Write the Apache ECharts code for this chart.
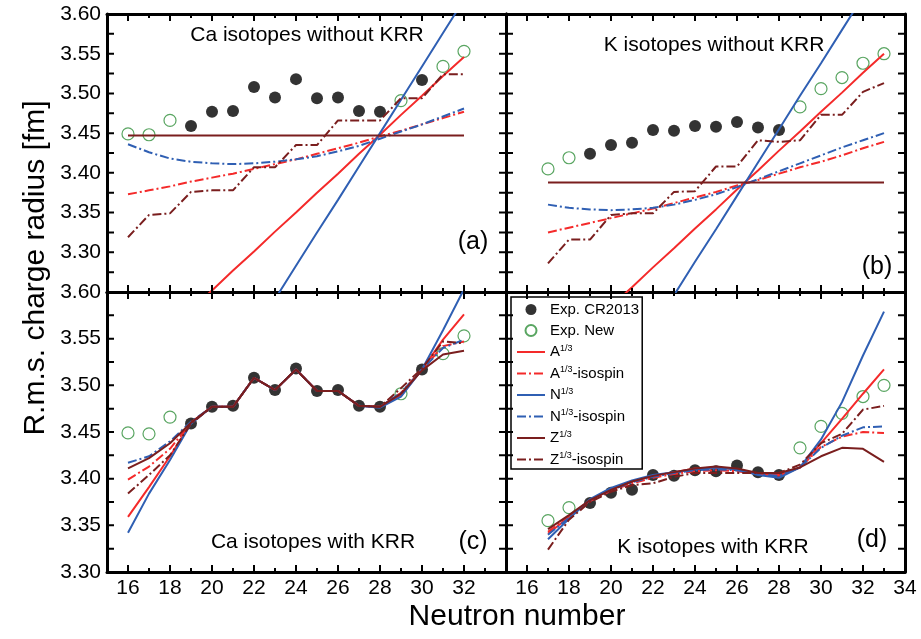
<!DOCTYPE html>
<html>
<head>
<meta charset="utf-8">
<script src="https://cdn.jsdelivr.net/npm/echarts@6/dist/echarts.min.js"></script>
<style>
  html, body { margin: 0; padding: 0; background: #fff; }
  #box { width: 921px; height: 639px; }
</style>
</head>
<body>
<div id="box"></div>
<script>
// neutron numbers
const caN = [16, 17, 18, 19, 20, 21, 22, 23, 24, 25, 26, 27, 28, 29, 30, 31, 32];
const kN = [17, 18, 19, 20, 21, 22, 23, 24, 25, 26, 27, 28, 29, 30, 31, 32, 33];

// experimental radii (fm)
const caCR = [null, null, null, 3.459, 3.477, 3.478, 3.508, 3.495, 3.518, 3.494, 3.495, 3.478, 3.477, null, 3.517, null, null];
const caNew = [3.449, 3.448, 3.466, null, null, null, null, null, null, null, null, null, null, 3.491, null, 3.534, 3.553];
const kCR = [null, null, 3.424, 3.435, 3.438, 3.454, 3.453, 3.459, 3.458, 3.464, 3.457, 3.454, null, null, null, null, null];
const kNew = [3.405, 3.419, null, null, null, null, null, null, null, null, null, null, 3.483, 3.506, 3.520, 3.538, 3.550];

// (a) Ca without KRR
const aA = [3.154, 3.179, 3.203, 3.228, 3.252, 3.277, 3.301, 3.326, 3.350, 3.375, 3.399, 3.424, 3.448, 3.473, 3.497, 3.522, 3.546];
const aAIso = [3.373, 3.378, 3.383, 3.389, 3.394, 3.399, 3.405, 3.411, 3.417, 3.424, 3.431, 3.438, 3.446, 3.453, 3.461, 3.469, 3.477];
const aN = [2.947, 2.989, 3.031, 3.073, 3.115, 3.157, 3.199, 3.241, 3.283, 3.325, 3.366, 3.408, 3.450, 3.492, 3.534, 3.576, 3.618];
const aNIso = [3.436, 3.426, 3.418, 3.414, 3.412, 3.411, 3.412, 3.414, 3.417, 3.421, 3.427, 3.434, 3.443, 3.452, 3.461, 3.471, 3.481];
const aZ = [3.447, 3.447, 3.447, 3.447, 3.447, 3.447, 3.447, 3.447, 3.447, 3.447, 3.447, 3.447, 3.447, 3.447, 3.447, 3.447, 3.447];
const aZIso = [3.319, 3.347, 3.349, 3.376, 3.378, 3.378, 3.407, 3.407, 3.435, 3.435, 3.466, 3.466, 3.466, 3.494, 3.494, 3.524, 3.524];

// (b) K without KRR
const bA = [3.158, 3.183, 3.207, 3.232, 3.256, 3.281, 3.305, 3.330, 3.354, 3.379, 3.403, 3.428, 3.452, 3.477, 3.501, 3.526, 3.550];
const bAIso = [3.325, 3.331, 3.337, 3.343, 3.349, 3.355, 3.362, 3.369, 3.376, 3.384, 3.391, 3.399, 3.407, 3.414, 3.422, 3.431, 3.439];
const bN = [2.995, 3.037, 3.079, 3.120, 3.162, 3.204, 3.246, 3.288, 3.329, 3.371, 3.413, 3.455, 3.497, 3.538, 3.580, 3.622, 3.664];
const bNIso = [3.360, 3.356, 3.354, 3.353, 3.354, 3.356, 3.360, 3.366, 3.373, 3.382, 3.392, 3.402, 3.412, 3.422, 3.432, 3.441, 3.450];
const bZ = [3.388, 3.388, 3.388, 3.388, 3.388, 3.388, 3.388, 3.388, 3.388, 3.388, 3.388, 3.388, 3.388, 3.388, 3.388, 3.388, 3.388];
const bZIso = [3.286, 3.316, 3.316, 3.347, 3.349, 3.349, 3.376, 3.377, 3.408, 3.408, 3.441, 3.439, 3.441, 3.473, 3.473, 3.502, 3.513];

// (c) Ca with KRR
const cA = [3.359, 3.391, 3.424, 3.460, 3.477, 3.477, 3.508, 3.495, 3.517, 3.494, 3.494, 3.478, 3.477, 3.489, 3.517, 3.549, 3.576];
const cAIso = [3.399, 3.413, 3.432, 3.460, 3.477, 3.477, 3.508, 3.495, 3.517, 3.494, 3.494, 3.478, 3.477, 3.492, 3.517, 3.542, 3.547];
const cN = [3.342, 3.384, 3.420, 3.459, 3.477, 3.477, 3.508, 3.495, 3.517, 3.494, 3.494, 3.478, 3.476, 3.488, 3.517, 3.559, 3.603];
const cNIso = [3.417, 3.424, 3.440, 3.461, 3.477, 3.477, 3.508, 3.495, 3.517, 3.494, 3.494, 3.478, 3.477, 3.492, 3.517, 3.540, 3.549];
const cZ = [3.411, 3.422, 3.438, 3.460, 3.477, 3.477, 3.508, 3.495, 3.517, 3.494, 3.494, 3.478, 3.477, 3.491, 3.516, 3.533, 3.537];
const cZIso = [3.384, 3.404, 3.425, 3.459, 3.477, 3.477, 3.508, 3.495, 3.517, 3.494, 3.494, 3.478, 3.477, 3.497, 3.518, 3.547, 3.545];

// (d) K with KRR
const dA = [3.391, 3.409, 3.427, 3.439, 3.447, 3.453, 3.457, 3.461, 3.462, 3.460, 3.455, 3.453, 3.462, 3.488, 3.514, 3.541, 3.567];
const dAIso = [3.393, 3.410, 3.426, 3.437, 3.445, 3.451, 3.455, 3.458, 3.459, 3.458, 3.455, 3.454, 3.462, 3.484, 3.495, 3.500, 3.499];
const dN = [3.385, 3.407, 3.428, 3.440, 3.448, 3.454, 3.457, 3.460, 3.462, 3.460, 3.454, 3.451, 3.462, 3.492, 3.532, 3.582, 3.629];
const dNIso = [3.390, 3.408, 3.427, 3.438, 3.446, 3.452, 3.456, 3.459, 3.460, 3.459, 3.455, 3.453, 3.462, 3.483, 3.496, 3.505, 3.506];
const dZ = [3.396, 3.411, 3.427, 3.438, 3.447, 3.453, 3.457, 3.461, 3.463, 3.461, 3.456, 3.456, 3.462, 3.474, 3.483, 3.482, 3.468];
const dZIso = [3.374, 3.406, 3.425, 3.436, 3.443, 3.445, 3.452, 3.456, 3.456, 3.456, 3.456, 3.456, 3.465, 3.488, 3.498, 3.524, 3.528];

// tick / label values
const evenTicks = [16, 18, 20, 22, 24, 26, 28, 30, 32, 34];
const oddTicks = [15, 17, 19, 21, 23, 25, 27, 29, 31, 33];
const yTicksTop = [3.25, 3.275, 3.30, 3.325, 3.35, 3.375, 3.40, 3.425, 3.45, 3.475, 3.50, 3.525, 3.55, 3.575, 3.60];
const yTicksC = [3.30, 3.325, 3.35, 3.375, 3.40, 3.425, 3.45, 3.475, 3.50, 3.525, 3.55, 3.575, 3.60];
const yTicksD = [3.35, 3.375, 3.40, 3.425, 3.45, 3.475, 3.50, 3.525, 3.55, 3.575, 3.60, 3.625, 3.65];
const xLabelsLeft = [16, 18, 20, 22, 24, 26, 28, 30, 32];
const xLabelsRight = [16, 18, 20, 22, 24, 26, 28, 30, 32, 34];
const yLabels = [3.30, 3.35, 3.40, 3.45, 3.50, 3.55, 3.60];

const FONT = "'Liberation Sans', Arial, sans-serif";
const RED = '#f42a2a';
const BLUE = '#2f5fb3';
const MAROON = '#7a1e1e';
const GREEN = '#2f8f3a';
const DASHDOT = [9, 3, 2, 3];

const lineDefs = [
  { name: 'A1/3', color: RED, type: 'solid' },
  { name: 'A1/3-isospin', color: RED, type: DASHDOT },
  { name: 'N1/3', color: BLUE, type: 'solid' },
  { name: 'N1/3-isospin', color: BLUE, type: DASHDOT },
  { name: 'Z1/3', color: MAROON, type: 'solid' },
  { name: 'Z1/3-isospin', color: MAROON, type: DASHDOT }
];

// row 0 = top, col 0 = left
const panels = [
  { n: caN, cr: caCR, nw: caNew, lines: [aA, aAIso, aN, aNIso, aZ, aZIso], y: [3.25, 3.60], yt: yTicksTop, rect: [107, 14, 399, 278], row: 0, col: 0 },
  { n: kN, cr: kCR, nw: kNew, lines: [bA, bAIso, bN, bNIso, bZ, bZIso], y: [3.25, 3.60], yt: yTicksTop, rect: [506, 14, 399, 278], row: 0, col: 1 },
  { n: caN, cr: caCR, nw: caNew, lines: [cA, cAIso, cN, cNIso, cZ, cZIso], y: [3.30, 3.60], yt: yTicksC, rect: [107, 292, 399, 280], row: 1, col: 0 },
  { n: kN, cr: kCR, nw: kNew, lines: [dA, dAIso, dN, dNIso, dZ, dZIso], y: [3.35, 3.65], yt: yTicksD, rect: [506, 292, 399, 280], row: 1, col: 1 }
];

function pairs(xs, ys) {
  return xs.map((x, i) => [x, ys[i]]).filter(p => p[1] != null);
}

// inward frame ticks as short segments (broken by nulls), placed in axis units
function tickSegments(p) {
  const d = [];
  const y0 = p.y[0], y1 = p.y[1], w = p.rect[2], h = p.rect[3];
  const dy = px => px * (y1 - y0) / h;
  const dx = px => px * (34 - 15) / w;
  [[evenTicks, 7], [oddTicks, 4]].forEach(t => t[0].forEach(v => {
    d.push([v, y0], [v, y0 + dy(t[1])], [v, null]);
    d.push([v, y1], [v, y1 - dy(t[1])], [v, null]);
  }));
  p.yt.forEach(v => {
    d.push([15, v], [15 + dx(7), v], [15, null]);
    d.push([34, v], [34 - dx(7), v], [34, null]);
  });
  return d;
}

const grids = [], xAxes = [], yAxes = [], series = [];
const axisLine = { show: true, lineStyle: { color: '#000', width: 3 } };
const labelStyle = { color: '#000', fontSize: 21, fontFamily: FONT };

panels.forEach((p, g) => {
  const r = p.rect;
  grids.push({ left: r[0], top: r[1], width: r[2], height: r[3] });

  const xi = xAxes.length;
  xAxes.push({
    gridIndex: g, type: 'value', min: 15, max: 34, position: 'bottom',
    axisLine: axisLine, splitLine: { show: false }, axisTick: { show: false },
    axisLabel: p.row === 1
      ? Object.assign({ show: true, margin: 6, customValues: p.col === 0 ? xLabelsLeft : xLabelsRight }, labelStyle)
      : { show: false }
  });
  xAxes.push({
    gridIndex: g, type: 'value', min: 15, max: 34, position: 'top',
    axisLine: axisLine, splitLine: { show: false }, axisTick: { show: false }, axisLabel: { show: false }
  });
  const yi = yAxes.length;
  yAxes.push({
    gridIndex: g, type: 'value', min: p.y[0], max: p.y[1], interval: 0.025, position: 'left',
    axisLine: axisLine, splitLine: { show: false }, axisTick: { show: false },
    axisLabel: p.col === 0
      ? Object.assign({ show: true, margin: 6, customValues: yLabels, formatter: v => v.toFixed(2) }, labelStyle)
      : { show: false }
  });
  yAxes.push({
    gridIndex: g, type: 'value', min: p.y[0], max: p.y[1], interval: 0.025, position: 'right',
    axisLine: axisLine, splitLine: { show: false }, axisTick: { show: false }, axisLabel: { show: false }
  });

  series.push({
    name: 'Exp. CR2013', type: 'scatter', xAxisIndex: xi, yAxisIndex: yi,
    symbol: 'circle', symbolSize: 12, itemStyle: { color: '#000' },
    data: pairs(p.n, p.cr), z: 2
  });
  series.push({
    name: 'Exp. New', type: 'scatter', xAxisIndex: xi, yAxisIndex: yi,
    symbol: 'circle', symbolSize: 12,
    itemStyle: { color: 'rgba(255,255,255,0)', borderColor: GREEN, borderWidth: 1.2 },
    data: pairs(p.n, p.nw), z: 2
  });
  lineDefs.forEach((d, i) => {
    series.push({
      name: d.name, type: 'line', xAxisIndex: xi, yAxisIndex: yi,
      symbol: 'none', clip: true, z: 3,
      lineStyle: { color: d.color, width: 2, type: d.type },
      itemStyle: { color: d.color },
      data: pairs(p.n, p.lines[i])
    });
  });
  // frame ticks share a legend name so the legend filter keeps them
  series.push({
    name: 'Exp. CR2013', type: 'line', xAxisIndex: xi, yAxisIndex: yi, silent: true,
    symbol: 'none', clip: false, connectNulls: false, z: 5,
    lineStyle: { color: '#000', width: 2 }, itemStyle: { color: '#000' },
    data: tickSegments(p)
  });
});

function legendLabel(name) {
  const m = name.match(/^([ANZ])1\/3(.*)$/);
  return m ? '{b|' + m[1] + '}{s|1/3}{b|' + m[2] + '}' : '{b|' + name + '}';
}

function txt(text, x, y, size, rot) {
  return {
    type: 'text', x: x, y: y, rotation: rot || 0, z: 10,
    style: { text: text, fill: '#000', font: size + 'px ' + FONT, align: 'center', verticalAlign: 'middle' }
  };
}

const legendData = [{ name: 'Exp. CR2013' }, { name: 'Exp. New' }].concat(
  lineDefs.map(d => ({ name: d.name, itemStyle: { opacity: 0 } }))
);

const myChart = echarts.init(document.getElementById('box'));
const option = {
  animation: false,
  grid: grids,
  xAxis: xAxes,
  yAxis: yAxes,
  series: series,
  legend: {
    left: 511, top: 297, orient: 'vertical',
    itemWidth: 28, itemHeight: 11, itemGap: 6,
    padding: [5, 3, 2, 5],
    borderColor: '#000', borderWidth: 1.5, backgroundColor: '#fff',
    selectedMode: false,
    data: legendData,
    formatter: legendLabel,
    textStyle: {
      color: '#000', fontFamily: FONT, fontSize: 15,
      rich: {
        b: { fontSize: 15, lineHeight: 16, fontFamily: FONT, color: '#000' },
        s: { fontSize: 9, lineHeight: 9, verticalAlign: 'top', fontFamily: FONT, color: '#000' }
      }
    }
  },
  graphic: [
    txt('Ca isotopes without KRR', 307, 35, 21),
    txt('K isotopes without KRR', 714, 45, 21),
    txt('(a)', 473, 242, 25),
    txt('(b)', 877, 267, 25),
    txt('Ca isotopes with KRR', 313, 542, 21),
    txt('(c)', 473, 542, 25),
    txt('K isotopes with KRR', 713, 547, 21),
    txt('(d)', 872, 540, 25),
    txt('Neutron number', 517, 617, 30),
    txt('R.m.s. charge radius [fm]', 36, 268, 30, Math.PI / 2)
  ]
};
myChart.setOption(option);
</script>
</body>
</html>
